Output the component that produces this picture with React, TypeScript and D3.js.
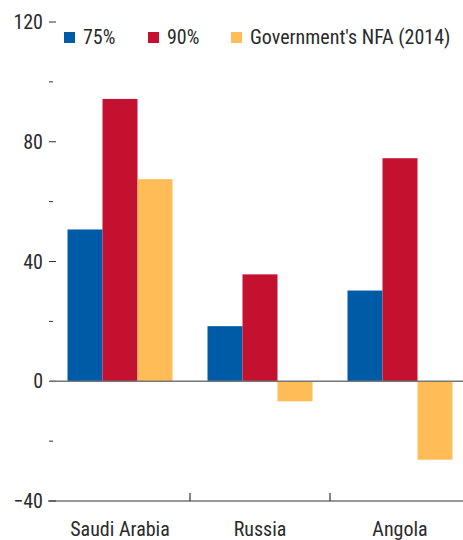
import React from "react";
import * as d3 from "d3";

const categories = ["Saudi Arabia", "Russia", "Angola"];
const seriesNames = ["75%", "90%", "Government's NFA (2014)"];
const s75 = [50.7, 18.4, 30.3];
const s90 = [94.3, 35.7, 74.5];
const nfa = [67.5, -6.7, -26.2];
const seriesValues = [s75, s90, nfa];
const colors = ["#005ba6", "#c3112f", "#ffbc57"];
const yTicks = [-40, -20, 0, 20, 40, 60, 80, 100, 120];
const yLabelTicks = [-40, 0, 40, 80, 120];

const W = 463;
const H = 540;
const FONT = "'Liberation Sans Narrow', 'Arial Narrow', 'Roboto Condensed', sans-serif";

export default function App() {
  const x0 = d3.scaleBand<string>().domain(categories).range([50, 470]).paddingInner(0).paddingOuter(0);
  const x1 = d3
    .scaleBand<number>()
    .domain([0, 1, 2])
    .range([17.5, 140 - 17.5]);
  const y = d3.scaleLinear().domain([-40, 120]).range([501, 22]);

  return (
    <svg
      width={W}
      height={H}
      style={{ position: "absolute", left: 0, top: 0, display: "block", background: "#fff" }}
      fontFamily={FONT}
    >
      {/* y ticks */}
      {yTicks.map((t) => {
        const labeled = yLabelTicks.includes(t);
        return (
          <g key={t}>
            <line x1={49} x2={labeled ? 56 : 53} y1={y(t)} y2={y(t)} stroke="#333" strokeWidth={1} />
            {labeled && (
              <text x={43} y={y(t)} dy="0.35em" textAnchor="end" fontSize={20} fill="#2a2a2a">
                {t < 0 ? "\u2212" + Math.abs(t) : t}
              </text>
            )}
          </g>
        );
      })}
      {/* bars */}
      {categories.map((c, i) => (
        <g key={c} transform={`translate(${x0(c)},0)`}>
          {seriesValues.map((vals, j) => {
            const v = vals[i];
            return (
              <rect
                key={j}
                x={x1(j)}
                width={x1.bandwidth()}
                y={y(Math.max(0, v))}
                height={Math.abs(y(v) - y(0))}
                fill={colors[j]}
              />
            );
          })}
        </g>
      ))}
      {/* zero line */}
      <line x1={50} x2={W} y1={y(0)} y2={y(0)} stroke="#777" strokeWidth={1.5} />
      {/* bottom axis */}
      <line x1={48} x2={W} y1={y(-40)} y2={y(-40)} stroke="#333" strokeWidth={1.2} />
      {categories.slice(1).map((c) => {
        const xx = x0(c) as number;
        return <line key={c} x1={xx} x2={xx} y1={y(-40)} y2={y(-40) - 8} stroke="#333" strokeWidth={1.2} />;
      })}
      {categories.map((c) => (
        <text
          key={c}
          x={(x0(c) as number) + x0.bandwidth() / 2}
          y={536}
          textAnchor="middle"
          fontSize={20}
          fill="#2a2a2a"
        >
          {c}
        </text>
      ))}
      {/* legend */}
      {seriesNames.map((n, j) => {
        const lx = [64, 148, 231][j];
        return (
          <g key={n}>
            <rect x={lx} y={32} width={11} height={11} fill={colors[j]} />
            <text x={lx + 19} y={44} fontSize={20} fill="#2a2a2a">
              {n}
            </text>
          </g>
        );
      })}
    </svg>
  );
}
